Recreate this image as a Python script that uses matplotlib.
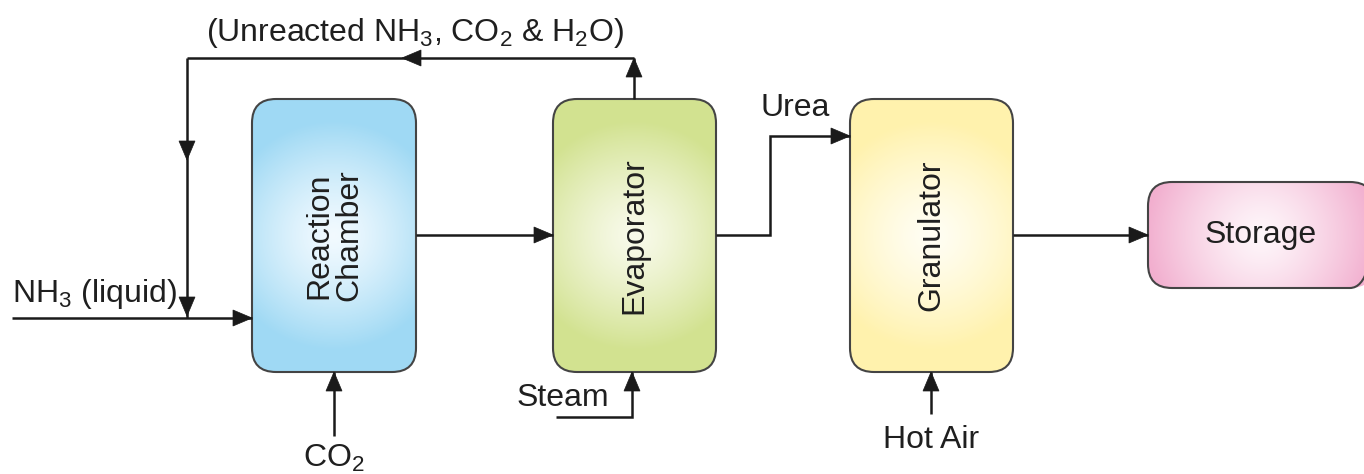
import numpy as np
import matplotlib
matplotlib.use("Agg")
import matplotlib.pyplot as plt
from matplotlib.patches import FancyBboxPatch, Polygon

plt.rcParams['font.family'] = ['Liberation Sans', 'DejaVu Sans']
plt.rcParams['mathtext.default'] = 'regular'

# ---- diagram content ----
box_names = ["Reaction\nChamber", "Evaporator", "Granulator", "Storage"]
box_left = [252, 553, 850, 1148]
box_top = [99, 99, 99, 182]
box_width = [164, 163, 163, 226]
box_height = [273, 273, 273, 106]
box_rotation = [90, 90, 90, 0]
box_edge_colors = ["#9fd9f4", "#d2e290", "#fff2ad", "#f2afcf"]
box_center_colors = ["#f2faff", "#f8faea", "#fffef4", "#fef6fa"]

recycle_label = "(Unreacted NH$_3$, CO$_2$ & H$_2$O)"
feed_label = "NH$_3$ (liquid)"
co2_label = "CO$_2$"
steam_label = "Steam"
urea_label = "Urea"
air_label = "Hot Air"

LINE = "#1a1a1a"
TXT = "#1f1f1f"
FS = 23

fig = plt.figure(figsize=(13.64, 4.74), dpi=100)
ax = fig.add_axes([0, 0, 1, 1])
ax.set_xlim(0, 1364)
ax.set_ylim(474, 0)
ax.axis("off")


def hexrgb(c):
    return np.array(matplotlib.colors.to_rgb(c))


# boxes with radial gradient
for name, x0, y0, w, h, rot, ec, cc in zip(box_names, box_left, box_top, box_width,
                                          box_height, box_rotation,
                                          box_edge_colors, box_center_colors):
    patch = FancyBboxPatch((x0, y0), w, h, boxstyle="round,pad=0,rounding_size=24",
                           facecolor="none", edgecolor="#444444", lw=1.5, zorder=3)
    ax.add_patch(patch)
    nx, ny = int(w), int(h)
    xs = np.linspace(-w / 2, w / 2, nx)
    ys = np.linspace(-h / 2, h / 2, ny)
    X, Y = np.meshgrid(xs, ys)
    R = 115.0
    t = np.clip(np.sqrt(X ** 2 + Y ** 2) / R, 0, 1) ** 1.3
    img = hexrgb(cc)[None, None, :] * (1 - t[..., None]) + hexrgb(ec)[None, None, :] * t[..., None]
    im = ax.imshow(img, extent=(x0, x0 + w, y0 + h, y0), origin="upper",
                   interpolation="bilinear", zorder=2, aspect="auto")
    im.set_clip_path(patch)
    ax.text(x0 + w / 2, y0 + h / 2, name, rotation=rot, ha="center", va="center",
            fontsize=FS, color=TXT, linespacing=1.0, zorder=4)


def line(xs, ys):
    ax.plot(xs, ys, color=LINE, lw=1.8, solid_capstyle="butt",
            solid_joinstyle="miter", zorder=5)


def head(x, y, d, L=19, W=8):
    # x,y = tip; d = direction the arrow points
    if d == "right":
        pts = [(x, y), (x - L, y - W), (x - L, y + W)]
    elif d == "left":
        pts = [(x, y), (x + L, y - W), (x + L, y + W)]
    elif d == "up":
        pts = [(x, y), (x - W, y + L), (x + W, y + L)]
    else:
        pts = [(x, y), (x - W, y - L), (x + W, y - L)]
    ax.add_patch(Polygon(pts, closed=True, facecolor=LINE, edgecolor=LINE, lw=0.5, zorder=6))


mid_y = 235
# recycle loop
line([634, 634], [99, 58])
head(634, 58, "up")
line([634, 187], [58, 58])
head(402, 58, "left")
line([187, 187], [58, 318])
head(187, 160, "down")
head(187, 316, "down")
# NH3 feed
line([12, 252], [318, 318])
head(252, 318, "right")
# reaction -> evaporator
line([416, 553], [mid_y, mid_y])
head(553, mid_y, "right")
# CO2
line([334, 334], [436, 372])
head(334, 372, "up")
# steam
line([556, 632, 632], [417, 417, 372])
head(632, 372, "up")
# urea
line([716, 770, 770, 850], [mid_y, mid_y, 136, 136])
head(850, 136, "right")
# hot air
line([931, 931], [414, 372])
head(931, 372, "up")
# granulator -> storage
line([1013, 1148], [mid_y, mid_y])
head(1148, mid_y, "right")

ax.text(415, 33, recycle_label, ha="center", va="center", fontsize=FS, color=TXT)
ax.text(12, 294, feed_label, ha="left", va="center", fontsize=FS, color=TXT)
ax.text(334, 458, co2_label, ha="center", va="center", fontsize=FS, color=TXT)
ax.text(563, 398, steam_label, ha="center", va="center", fontsize=FS, color=TXT)
ax.text(795, 108, urea_label, ha="center", va="center", fontsize=FS, color=TXT)
ax.text(931, 440, air_label, ha="center", va="center", fontsize=FS, color=TXT)

fig.savefig("out.png", dpi=100)
